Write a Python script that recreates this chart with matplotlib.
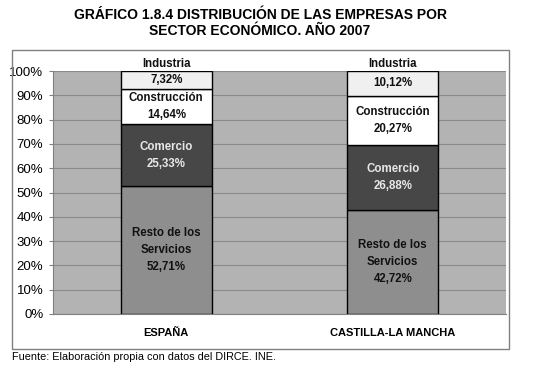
import matplotlib.pyplot as plt
import numpy as np

plt.rcParams['font.family'] = ['Liberation Sans', 'DejaVu Sans']

# Data
regions = ['ESPAÑA', 'CASTILLA-LA MANCHA']
sectors = ['Resto de los\nServicios', 'Comercio', 'Construcción', 'Industria']
resto = [52.71, 42.72]
comercio = [25.33, 26.88]
construccion = [14.64, 20.27]
industria = [7.32, 10.12]
yticks = [0, 10, 20, 30, 40, 50, 60, 70, 80, 90, 100]

values = [resto, comercio, construccion, industria]
colors = ['#8e8e8e', '#474747', '#ffffff', '#f0f0f0']
text_colors = ['#111111', '#e8e8e8', '#111111', '#111111']

fig = plt.figure(figsize=(5.5, 3.73), dpi=100)
# outer frame box
frame = plt.Rectangle((12 / 550, 1 - 349 / 373), (509 - 12) / 550, (349 - 50) / 373,
                      transform=fig.transFigure, fill=False, edgecolor='#808080', lw=1.0)
fig.patches.append(frame)

ax = fig.add_axes([53 / 550, 1 - 314 / 373, (506 - 53) / 550, (314 - 71) / 373])
ax.set_facecolor('#b3b3b3')

x = np.arange(len(regions))
bottom = np.zeros(len(regions))
for i, vals in enumerate(values):
    ax.bar(x, vals, width=0.4, bottom=bottom, color=colors[i], edgecolor='black',
           linewidth=1.0, zorder=3)
    for j in range(len(regions)):
        pct = ('%.2f' % vals[j]).replace('.', ',') + '%'
        if sectors[i] == 'Industria':
            ax.text(x[j], 100 + 0.5, sectors[i], ha='center', va='bottom', fontsize=8.3,
                    fontweight='bold', color=text_colors[i], zorder=4)
            ax.text(x[j], bottom[j] + vals[j] / 2, pct, ha='center', va='center', fontsize=8.3,
                    fontweight='bold', color=text_colors[i], zorder=4)
        else:
            ax.text(x[j], bottom[j] + vals[j] / 2, sectors[i] + '\n' + pct, ha='center',
                    va='center', fontsize=8.3, fontweight='bold', color=text_colors[i],
                    linespacing=1.55, zorder=4)
    bottom += np.array(vals)

ax.set_xlim(-0.5, 1.5)
ax.set_ylim(0, 100)
ax.set_yticks(yticks)
ax.set_yticklabels(['%d%%' % t for t in yticks], fontsize=9.5)
ax.yaxis.grid(True, color='#8a8a8a', lw=0.8, zorder=0)
ax.set_axisbelow(True)
ax.tick_params(axis='y', length=3, color='#808080', pad=4)
ax.set_xticks(x)
ax.set_xticklabels(regions, fontsize=8, fontweight='bold')
ax.tick_params(axis='x', length=0, pad=10)
for s in ['top', 'right']:
    ax.spines[s].set_visible(False)
ax.spines['left'].set_color('#808080')
ax.spines['bottom'].set_color('#808080')

fig.text(260 / 550, 1 - 23 / 373, 'GRÁFICO 1.8.4 DISTRIBUCIÓN DE LAS EMPRESAS POR\nSECTOR ECONÓMICO. AÑO 2007',
         ha='center', va='center', fontsize=10, fontweight='bold', linespacing=1.25)
fig.text(12 / 550, 1 - 357 / 373, 'Fuente: Elaboración propia con datos del DIRCE. INE.',
         ha='left', va='center', fontsize=7.8)

fig.savefig('out.png', dpi=100)
